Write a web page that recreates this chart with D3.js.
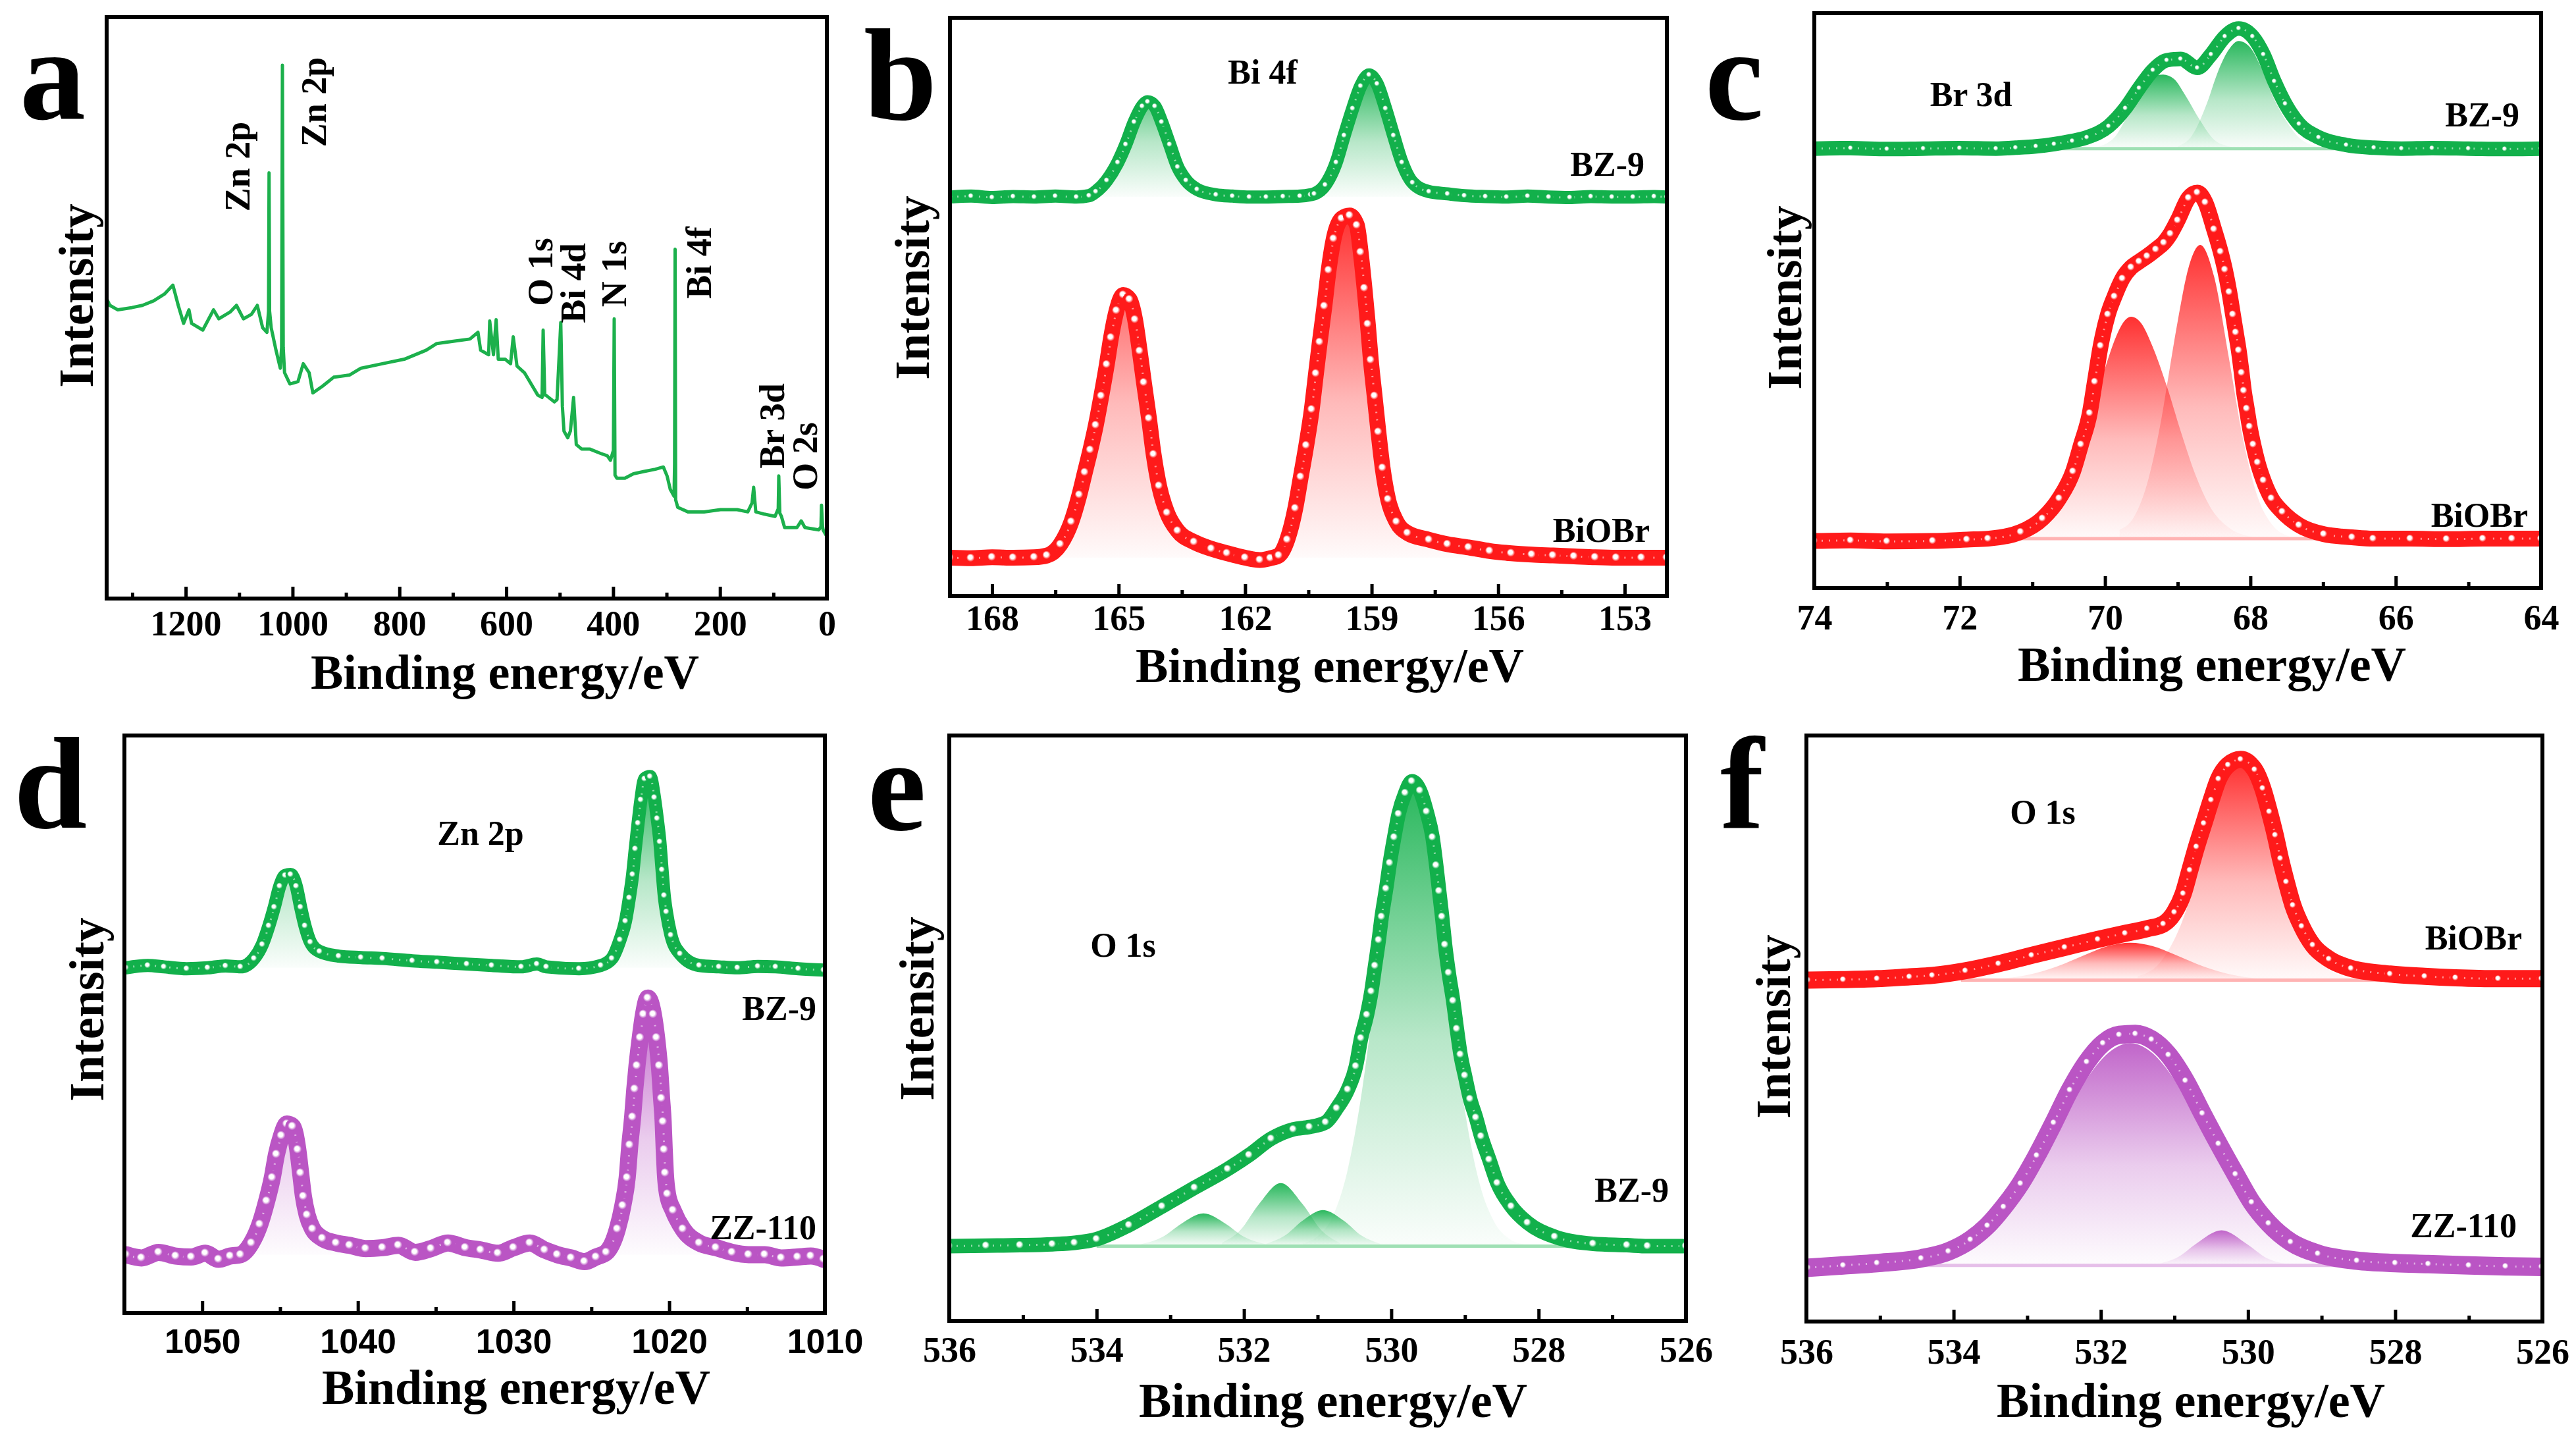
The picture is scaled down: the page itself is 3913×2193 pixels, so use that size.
<!DOCTYPE html>
<html>
<head>
<meta charset="utf-8">
<script src="https://cdn.jsdelivr.net/npm/d3@7"></script>
<style>
  html, body { margin: 0; padding: 0; background: #fff; }
  svg { display: block; }
  text { font-family: "Liberation Serif", "Times New Roman", serif; font-weight: bold; fill: #000; }
</style>
</head>
<body>
<div id="chart"></div>
<script>
// XPS spectra, 6 panels. Intensities are in arbitrary units (a.u.)

const width = 3913, height = 2193;

// ---------- tick values ----------
const aTicks = [1200, 1000, 800, 600, 400, 200, 0];
const aMinor = [1300, 1100, 900, 700, 500, 300, 100];
const bTicks = [168, 165, 162, 159, 156, 153];
const bMinor = [166.5, 163.5, 160.5, 157.5, 154.5];
const cTicks = [74, 72, 70, 68, 66, 64];
const cMinor = [73, 71, 69, 67, 65];
const dTicks = [1050, 1040, 1030, 1020, 1010];
const dMinor = [1045, 1035, 1025, 1015];
const oTicks = [536, 534, 532, 530, 528, 526];
const oMinor = [535, 533, 531, 529, 527];

// ---------- (a) survey, BZ-9 ----------
const surveyBZ9 = [[1348,668],[1342,653],[1327,643],[1301,648],[1281,653],[1260,663],[1240,678],[1224,698],[1214,653],[1204,613],
  [1194,643],[1189,613],[1168,598],[1148,643],[1138,623],[1117,638],[1105,653],[1092,623],[1077,633],[1066,653],[1056,603],
  [1048,593],[1045,640],[1044,948],[1043,640],[1040,603],[1031,553],[1023,513],[1020.5,560],[1019,1188],[1017.5,560],[1015,503],
  [1005,478],[990,483],[980,523],[969,503],[962,458],[944,473],[923,493],[893,498],[872,513],[832,523],[791,533],[750,553],
  [730,568],[699,573],[668,578],[653,593],[648,553],[633,543],[631,618],[624,543],[619,621],[615,533],[602,533],[592,523],
  [587,583],[580,518],[566,503],[551,473],[541,453],[533,448],[531,598],[528,453],[526,453],[510,438],[505,443],[498,615],
  [495,428],[492,373],[485,358],[480,373],[474,448],[469,343],[459,333],[444,333],[423,323],[411,318],[405,308],[399.5,330],
  [398,623],[396.5,275],[393,268],[378,268],[362,278],[342,283],[321,288],[306,293],[299,273],[293,243],[286,228],[285,300],
  [284,778],[283,220],[279,203],[260,193],[230,193],[199,198],[168,198],[148,193],[140,213],[137,248],[133,193],[117,188],
  [97,183],[91,200],[90,273],[88,190],[85,183],[79,158],[56,158],[48,173],[41,158],[15,153],[11,160],[10,208],[8,160],[7,153],[0,138]];

// ---------- (b) Bi 4f ----------
const bi4fBZ9 = [[169.0,888],[168.5,890],[168.0,887],[167.5,889],[167.0,888],[166.5,890],[166.0,888],[165.7,891],[165.54,900],
  [165.28,925],[165.02,965],[164.83,1005],[164.63,1055],[164.44,1090],[164.31,1100],[164.14,1090],[163.98,1055],[163.79,1005],
  [163.6,955],[163.4,925],[163.14,905],[162.69,893],[162.3,890],[161.9,888],[161.5,888],[161.1,889],[160.7,890],[160.45,893],
  [160.36,895],[160.1,915],[159.84,965],[159.65,1025],[159.45,1085],[159.26,1135],[159.06,1160],[158.87,1140],[158.67,1085],
  [158.48,1025],[158.28,965],[158.03,920],[157.64,900],[157.2,895],[156.8,891],[156.3,889],[155.8,888],[155.3,890],[154.8,888],
  [154.3,887],[153.8,889],[153.3,888],[152.8,888],[152.3,889],[152.0,888]];
const bi4fBiOBr = [[169.0,85],[168.5,84],[168.0,86],[167.5,85],[167.0,86],[166.7,90],[166.38,115],[166.12,165],[165.93,225],
  [165.8,275],[165.67,325],[165.54,380],[165.41,445],[165.28,515],[165.18,575],[165.05,635],[164.89,670],[164.74,660],
  [164.61,615],[164.5,545],[164.4,475],[164.28,395],[164.17,315],[164.04,245],[163.85,185],[163.6,145],[163.21,120],
  [162.8,105],[162.43,95],[162.0,85],[161.65,80],[161.4,84],[161.2,90],[161.0,125],[160.81,195],[160.68,265],[160.55,335],
  [160.42,415],[160.32,495],[160.23,565],[160.12,645],[160.02,725],[159.9,795],[159.71,840],[159.52,847],[159.35,825],
  [159.26,765],[159.17,685],[159.09,605],[159.02,525],[158.93,445],[158.84,365],[158.74,285],[158.61,215],[158.41,165],
  [158.15,140],[157.64,125],[157.2,115],[156.7,108],[156.2,100],[155.69,95],[155.2,92],[154.7,90],[154.2,88],[153.7,86],
  [153.2,85],[152.6,85],[152.0,85]];

// ---------- (c) Br 3d ----------
const br3dBZ9 = [[74.0,980],[73.5,981],[73.0,979],[72.5,980],[72.0,981],[71.5,980],[71.23,982],[70.95,985],[70.7,990],
  [70.45,997],[70.25,1005],[69.95,1030],[69.72,1070],[69.53,1115],[69.34,1155],[69.15,1177],[68.96,1180],[68.73,1160],
  [68.54,1190],[68.35,1230],[68.16,1248],[67.97,1230],[67.82,1190],[67.67,1130],[67.52,1080],[67.33,1035],[67.06,1005],
  [66.68,988],[66.3,982],[65.92,980],[65.5,981],[65.0,980],[64.5,979],[64.0,980]];
const br3dBZ9Fit1 = [[70.2,980],[69.9,1000],[69.7,1050],[69.5,1110],[69.35,1140],[69.2,1145],[69.05,1135],[68.9,1100],
  [68.7,1045],[68.5,1000],[68.3,985],[68.1,980]];
const br3dBZ9Fit2 = [[69.0,985],[68.8,1010],[68.6,1080],[68.45,1150],[68.3,1200],[68.16,1220],[68.0,1205],[67.85,1160],
  [67.7,1100],[67.5,1040],[67.3,1000],[67.0,982],[66.8,980]];
const br3dBiOBr = [[74.0,105],[73.5,106],[73.0,104],[72.37,105],[71.9,108],[71.61,110],[71.16,125],[70.86,155],[70.63,200],
  [70.44,260],[70.33,320],[70.21,390],[70.14,460],[70.06,540],[69.96,610],[69.87,650],[69.76,690],[69.64,715],[69.53,728],
  [69.42,740],[69.3,755],[69.19,770],[69.1,790],[69.0,820],[68.85,870],[68.73,882],[68.62,860],[68.5,800],[68.41,750],
  [68.35,710],[68.29,660],[68.24,610],[68.2,570],[68.16,530],[68.12,480],[68.09,440],[68.05,400],[68.01,360],[67.96,320],
  [67.9,280],[67.82,240],[67.71,200],[67.56,170],[67.33,140],[66.99,120],[66.6,113],[66.31,110],[65.8,110],[65.3,109],
  [64.8,110],[64.4,110],[64.0,110]];
const br3dBiOBrFit1 = [[71.4,112],[71.2,115],[70.9,140],[70.6,195],[70.4,270],[70.2,380],[70.0,490],[69.85,560],[69.72,598],
  [69.64,605],[69.5,590],[69.35,540],[69.15,450],[68.95,345],[68.75,250],[68.55,180],[68.3,135],[68.0,115],[67.7,110]];
const br3dBiOBrFit2 = [[69.8,130],[69.6,159],[69.4,245],[69.3,315],[69.2,400],[69.15,450],[69.0,595],[68.85,715],[68.69,765],
  [68.5,695],[68.3,517],[68.1,331],[67.9,203],[67.7,141],[67.5,117],[67.3,110]];

// ---------- (d) Zn 2p ----------
const zn2pBZ9 = [[1054.9,740],[1053.5,745],[1052.46,742],[1051.0,738],[1049.65,740],[1048.5,744],[1047.54,742],[1046.67,760],
  [1046.14,790],[1045.72,830],[1045.37,870],[1045.02,915],[1044.67,938],[1044.32,940],[1043.96,915],[1043.68,870],[1043.4,830],
  [1043.05,795],[1042.46,775],[1041.23,765],[1039.8,762],[1038.42,760],[1036.5,755],[1034.91,752],[1033.0,748],[1031.4,745],
  [1029.5,742],[1028.5,748],[1027.89,742],[1025.79,738],[1024.39,745],[1023.68,760],[1023.16,800],[1022.81,840],[1022.56,890],
  [1022.35,940],[1022.18,995],[1022.0,1050],[1021.82,1100],[1021.58,1145],[1021.23,1150],[1020.95,1105],[1020.77,1060],
  [1020.6,1010],[1020.46,950],[1020.32,895],[1020.18,860],[1019.89,810],[1019.3,770],[1018.07,745],[1016.8,742],[1015.61,740],
  [1014.3,743],[1013.16,742],[1011.7,738],[1010.07,735]];
const zn2pZZ110 = [[1054.9,125],[1053.9,118],[1052.8,130],[1051.7,122],[1050.7,120],[1049.8,128],[1048.95,115],[1048.2,122],
  [1047.54,125],[1046.84,150],[1046.3,190],[1045.86,240],[1045.5,290],[1045.23,340],[1044.91,380],[1044.56,405],[1044.2,400],
  [1043.86,350],[1043.68,300],[1043.5,250],[1043.26,210],[1042.91,180],[1042.28,160],[1041.4,150],[1040.53,145],[1039.5,138],
  [1038.42,140],[1037.4,145],[1036.32,130],[1035.3,138],[1034.21,150],[1033.1,140],[1032.11,135],[1031.0,128],[1030.0,140],
  [1028.95,150],[1028.0,135],[1027.19,125],[1026.3,118],[1025.44,110],[1024.7,120],[1024.04,130],[1023.33,180],[1022.98,230],
  [1022.7,290],[1022.53,360],[1022.35,420],[1022.21,480],[1022.07,530],[1021.86,590],[1021.65,640],[1021.37,675],
  [1021.02,640],[1020.81,590],[1020.63,530],[1020.49,460],[1020.39,410],[1020.32,350],[1020.25,300],[1020.11,255],
  [1019.75,220],[1019.12,180],[1018.07,150],[1017.0,140],[1015.96,130],[1014.9,125],[1013.86,125],[1012.8,118],[1011.75,120],
  [1010.9,122],[1010.07,115]];

// ---------- (e) O 1s, BZ-9 ----------
const o1sBZ9 = [[536.0,160],[535.5,161],[535.04,162],[534.6,164],[534.3,167],[534.0,175],[533.56,205],[533.11,245],[532.67,285],
  [532.22,325],[531.93,355],[531.63,390],[531.33,410],[531.11,415],[530.89,425],[530.74,455],[530.59,495],[530.48,545],
  [530.41,605],[530.33,655],[530.27,705],[530.22,760],[530.17,815],[530.13,865],[530.07,925],[530.02,980],[529.96,1035],
  [529.9,1085],[529.81,1130],[529.72,1155],[529.61,1135],[529.52,1090],[529.44,1035],[529.39,975],[529.35,920],[529.31,865],
  [529.27,805],[529.22,745],[529.16,685],[529.11,625],[529.06,570],[529.0,525],[528.93,475],[528.85,435],[528.78,395],
  [528.67,345],[528.56,295],[528.37,245],[528.15,210],[527.78,180],[527.26,165],[526.8,162],[526.52,160],[526.0,160]];
const o1sBZ9Fit1 = [[531.2,166],[531.0,181],[530.8,222],[530.6,318],[530.4,490],[530.2,732],[530.0,980],[529.85,1100],
  [529.72,1145],[529.6,1110],[529.45,990],[529.2,679],[529.0,449],[528.8,293],[528.6,211],[528.4,176],[528.2,164]];
const o1sBZ9Fit2 = [[533.4,164],[533.1,180],[532.85,208],[532.55,230],[532.25,208],[532.0,180],[531.7,164]];
const o1sBZ9Fit3 = [[532.3,167],[532.05,194],[531.8,249],[531.5,295],[531.2,249],[530.95,194],[530.7,167]];
const o1sBZ9Fit4 = [[531.7,165],[531.45,182],[531.2,215],[530.93,237],[530.65,215],[530.4,182],[530.15,165]];

// ---------- (f) O 1s, BiOBr and ZZ-110 ----------
const o1sBiOBr = [[535.98,730],[535.5,731],[535.04,733],[534.6,737],[534.29,740],[533.84,750],[533.39,765],[532.94,783],
  [532.49,800],[532.04,817],[531.67,830],[531.37,840],[531.15,850],[531.0,875],[530.88,915],[530.79,965],[530.7,1015],
  [530.6,1065],[530.5,1115],[530.4,1160],[530.27,1190],[530.1,1202],[529.91,1180],[529.8,1140],[529.71,1090],[529.63,1040],
  [529.56,990],[529.48,940],[529.39,890],[529.27,845],[529.12,805],[528.9,775],[528.6,755],[528.07,743],[527.6,738],
  [527.18,735],[526.6,733],[526.01,733]];
const o1sBiOBrFit1 = [[531.5,738],[531.2,767],[530.9,853],[530.6,1006],[530.35,1139],[530.1,1195],[529.85,1139],[529.6,1006],
  [529.3,853],[529.0,767],[528.7,738],[528.4,731]];
const o1sBiOBrFit2 = [[533.6,731],[533.0,741],[532.6,759],[532.2,785],[531.9,803],[531.6,810],[531.3,803],[531.0,785],
  [530.6,759],[530.2,741],[529.6,731]];
const o1sZZ110 = [[535.98,115],[535.5,120],[535.04,125],[534.44,135],[534.07,150],[533.77,175],[533.54,205],[533.32,245],
  [533.09,295],[532.87,355],[532.64,425],[532.42,495],[532.19,555],[531.97,595],[531.75,613],[531.53,615],[531.31,603],
  [531.08,570],[530.85,515],[530.62,445],[530.4,380],[530.17,315],[529.95,255],[529.72,210],[529.42,170],[529.05,145],
  [528.52,130],[528.0,125],[527.55,123],[527.0,120],[526.5,118],[526.01,117]];
const o1sZZ110Fit1 = [[534.6,125],[534.0,147],[533.5,198],[533.0,298],[532.6,408],[532.2,517],[531.9,574],[531.6,595],
  [531.3,574],[531.0,517],[530.6,408],[530.2,298],[529.7,198],[529.2,147],[528.6,125]];
const o1sZZ110Fit2 = [[531.2,124],[530.95,138],[530.7,167],[530.36,195],[530.0,164],[529.75,136],[529.5,124],[529.2,120]];

// ---------- styling ----------
const colors = { green: "#12b04b", red: "#ff1a1a", purple: "#ba55c4" };
const lightColors = { green: "#9fe0b4", red: "#ffb3b3", purple: "#e6bfe9" };

const svg = d3.select("#chart").append("svg")
  .attr("width", width).attr("height", height);
const defs = svg.append("defs");

Object.keys(colors).forEach(k => {
  // vertical fade for the fitted peaks
  const lg = defs.append("linearGradient").attr("id", "fill-" + k)
    .attr("x1", 0).attr("y1", 0).attr("x2", 0).attr("y2", 1);
  lg.append("stop").attr("offset", "0%").attr("stop-color", colors[k]).attr("stop-opacity", 0.9);
  lg.append("stop").attr("offset", "55%").attr("stop-color", colors[k]).attr("stop-opacity", 0.3);
  lg.append("stop").attr("offset", "100%").attr("stop-color", colors[k]).attr("stop-opacity", 0.02);
  // shiny ball markers
  const rg = defs.append("radialGradient").attr("id", "ball-" + k)
    .attr("cx", "50%").attr("cy", "50%").attr("r", "50%").attr("fx", "42%").attr("fy", "40%");
  rg.append("stop").attr("offset", "0%").attr("stop-color", "#fff");
  rg.append("stop").attr("offset", "30%").attr("stop-color", "#fff");
  rg.append("stop").attr("offset", "60%").attr("stop-color", colors[k]);
  rg.append("stop").attr("offset", "100%").attr("stop-color", colors[k]);
});

// ---------- panels ----------
const panels = [
  { letter: "a", left: 162, right: 1256, top: 26, bottom: 909, xDomain: [1348, 0], yDomain: [0, 1295],
    ticks: aTicks, minor: aMinor, tickBase: 965, titleX: 767, titleBase: 1046, yTitle: [125, 449], letterPos: [30, 181],
    survey: surveyBZ9,
    rotLabels: [["Zn 2p", 365, 253], ["Zn 2p", 481, 155], ["O 1s", 825, 413], ["Bi 4d", 875, 430],
                ["N 1s", 937, 416], ["Bi 4f", 1066, 399], ["Br 3d", 1177, 647], ["O 2s", 1227, 693]],
    labels: [], series: [] },
  { letter: "b", left: 1443, right: 2532, top: 27, bottom: 905, xDomain: [169, 152], yDomain: [0, 1287],
    ticks: bTicks, minor: bMinor, tickBase: 957, titleX: 2020, titleBase: 1036, yTitle: [1395, 437], letterPos: [1312, 181],
    labels: [["Bi 4f", 1918, 127, "middle"], ["BZ-9", 2498, 267, "end"], ["BiOBr", 2506, 823, "end"]],
    series: [
      { data: bi4fBZ9, color: "green", r: 7, band: 20, base: 888, fillUnder: true },
      { data: bi4fBiOBr, color: "red", r: 10.5, band: 24, base: 85, fillUnder: true } ] },
  { letter: "c", left: 2756, right: 3860, top: 20, bottom: 893, xDomain: [74, 64], yDomain: [0, 1282],
    ticks: cTicks, minor: cMinor, tickBase: 956, titleX: 3360, titleBase: 1034, yTitle: [2720, 452], letterPos: [2590, 181],
    labels: [["Br 3d", 2994, 161, "middle"], ["BZ-9", 3827, 192, "end"], ["BiOBr", 3840, 800, "end"]],
    series: [
      { data: br3dBZ9, color: "green", r: 6.5, band: 22, base: 980, fits: [br3dBZ9Fit1, br3dBZ9Fit2], bg: [74, 64] },
      { data: br3dBiOBr, color: "red", r: 9.5, band: 24, base: 110, fits: [br3dBiOBrFit1, br3dBiOBrFit2], bg: [71.5, 66.5] } ] },
  { letter: "d", left: 189, right: 1253, top: 1117, bottom: 1994, xDomain: [1055, 1010], yDomain: [0, 1238],
    ticks: dTicks, minor: dMinor, tickBase: 2055, titleX: 784, titleBase: 2132, yTitle: [141, 1533], letterPos: [21, 1257],
    sansTicks: true,
    labels: [["Zn 2p", 730, 1283, "middle"], ["BZ-9", 1240, 1549, "end"], ["ZZ-110", 1240, 1882, "end"]],
    series: [
      { data: zn2pBZ9, color: "green", r: 8, band: 20, base: 740, fillUnder: true },
      { data: zn2pZZ110, color: "purple", r: 11, band: 26, base: 125, fillUnder: true } ] },
  { letter: "e", left: 1442, right: 2561, top: 1117, bottom: 2006, xDomain: [536, 526], yDomain: [0, 1253],
    ticks: oTicks, minor: oMinor, tickBase: 2068, titleX: 2025, titleBase: 2152, yTitle: [1402, 1532], letterPos: [1318, 1260],
    labels: [["O 1s", 1706, 1453, "middle"], ["BZ-9", 2535, 1825, "end"]],
    series: [
      { data: o1sBZ9, color: "green", r: 10, band: 22, base: 160,
        fits: [o1sBZ9Fit1, o1sBZ9Fit2, o1sBZ9Fit3, o1sBZ9Fit4], bg: [534, 526.3] } ] },
  { letter: "f", left: 2744, right: 3862, top: 1117, bottom: 2007, xDomain: [536, 526], yDomain: [0, 1253],
    ticks: oTicks, minor: oMinor, tickBase: 2071, titleX: 3328, titleBase: 2152, yTitle: [2703, 1559], letterPos: [2613, 1257],
    labels: [["O 1s", 3103, 1251, "middle"], ["BiOBr", 3831, 1442, "end"], ["ZZ-110", 3823, 1879, "end"]],
    series: [
      { data: o1sBiOBr, color: "red", r: 8, band: 26, base: 730, fits: [o1sBiOBrFit1, o1sBiOBrFit2], bg: [533.9, 528.1] },
      { data: o1sZZ110, color: "purple", r: 8, band: 28, base: 120, fits: [o1sZZ110Fit1, o1sZZ110Fit2], bg: [536, 526] } ] }
];

panels.forEach(drawPanel);

function drawPanel(p) {
  const x = d3.scaleLinear().domain(p.xDomain).range([p.left, p.right]);
  const y = d3.scaleLinear().domain(p.yDomain).range([p.bottom, p.top]);
  const g = svg.append("g");

  const clipId = "clip-" + p.letter;
  defs.append("clipPath").attr("id", clipId).append("rect")
    .attr("x", p.left).attr("y", p.top).attr("width", p.right - p.left).attr("height", p.bottom - p.top);
  const plot = g.append("g").attr("clip-path", `url(#${clipId})`);

  // survey line (panel a)
  if (p.survey) {
    plot.append("path").datum(p.survey)
      .attr("d", d3.line().x(d => x(d[0])).y(d => y(d[1])))
      .attr("fill", "none").attr("stroke", "#1cb04c").attr("stroke-width", 5).attr("stroke-linejoin", "round");
  }

  p.series.forEach(s => {
    // gradient-filled fitted components
    if (s.fits) {
      s.fits.forEach(f => {
        plot.append("path").datum(f)
          .attr("d", d3.area().x(d => x(d[0])).y0(y(s.base)).y1(d => y(d[1])).curve(d3.curveMonotoneX))
          .attr("fill", `url(#fill-${s.color})`);
      });
    }
    if (s.fillUnder) {
      plot.append("path").datum(s.data)
        .attr("d", d3.area().x(d => x(d[0])).y0(y(s.base)).y1(d => y(Math.max(d[1], s.base))).curve(d3.curveMonotoneX))
        .attr("fill", `url(#fill-${s.color})`);
    }
    // fitted background line
    if (s.bg) {
      plot.append("line")
        .attr("x1", x(s.bg[0])).attr("x2", x(s.bg[1]))
        .attr("y1", y(s.base)).attr("y2", y(s.base))
        .attr("stroke", lightColors[s.color]).attr("stroke-width", 5);
    }
    // dense marker band + ball markers
    const line = d3.line().x(d => x(d[0])).y(d => y(d[1])).curve(d3.curveMonotoneX);
    plot.append("path").datum(s.data).attr("d", line)
      .attr("fill", "none").attr("stroke", colors[s.color]).attr("stroke-width", s.band)
      .attr("stroke-linecap", "round").attr("stroke-linejoin", "round");
    plot.append("path").datum(s.data).attr("d", line)
      .attr("fill", "none").attr("stroke", "#fff").attr("stroke-opacity", 0.55)
      .attr("stroke-width", 3).attr("stroke-dasharray", "2 9");
    plot.selectAll(null).data(s.data).enter().append("circle")
      .attr("cx", d => x(d[0])).attr("cy", d => y(d[1])).attr("r", s.r)
      .attr("fill", `url(#ball-${s.color})`);
  });

  // bottom axis, inward ticks
  const tickFont = p.sansTicks ? "'Liberation Sans', Arial, sans-serif" : "'Liberation Serif', 'Times New Roman', serif";
  const gMinor = g.append("g").attr("transform", `translate(0,${p.bottom})`)
    .call(d3.axisBottom(x).tickValues(p.minor).tickSize(-9).tickFormat(""));
  const gMajor = g.append("g").attr("transform", `translate(0,${p.bottom})`)
    .call(d3.axisBottom(x).tickValues(p.ticks).tickSize(-18).tickFormat(d3.format("d")));
  [gMinor, gMajor].forEach(ax => {
    ax.select(".domain").remove();
    ax.selectAll(".tick line").attr("stroke", "#000").attr("stroke-width", 5);
  });
  gMajor.selectAll(".tick text")
    .attr("y", p.tickBase - p.bottom).attr("dy", 0)
    .attr("font-size", p.sansTicks ? 52 : 54)
    .style("font-family", tickFont).style("font-weight", "bold").style("fill", "#000");

  // frame
  g.append("rect")
    .attr("x", p.left).attr("y", p.top).attr("width", p.right - p.left).attr("height", p.bottom - p.top)
    .attr("fill", "none").attr("stroke", "#000").attr("stroke-width", 6);

  // axis titles
  g.append("text").attr("x", p.titleX).attr("y", p.titleBase)
    .attr("text-anchor", "middle").attr("font-size", 74).text("Binding energy/eV");
  g.append("text").attr("transform", `translate(${p.yTitle[0] + 16},${p.yTitle[1]}) rotate(-90)`)
    .attr("text-anchor", "middle").attr("font-size", 74).text("Intensity");

  // panel letter
  g.append("text").attr("x", p.letterPos[0]).attr("y", p.letterPos[1])
    .attr("font-size", 200).text(p.letter);

  // in-plot labels
  p.labels.forEach(l => {
    g.append("text").attr("x", l[1]).attr("y", l[2]).attr("text-anchor", l[3])
      .attr("font-size", 52).text(l[0]);
  });
  if (p.rotLabels) {
    p.rotLabels.forEach(l => {
      g.append("text").attr("transform", `translate(${l[1] + 14},${l[2]}) rotate(-90)`)
        .attr("text-anchor", "middle").attr("font-size", 54).text(l[0]);
    });
  }
}
</script>
</body>
</html>
